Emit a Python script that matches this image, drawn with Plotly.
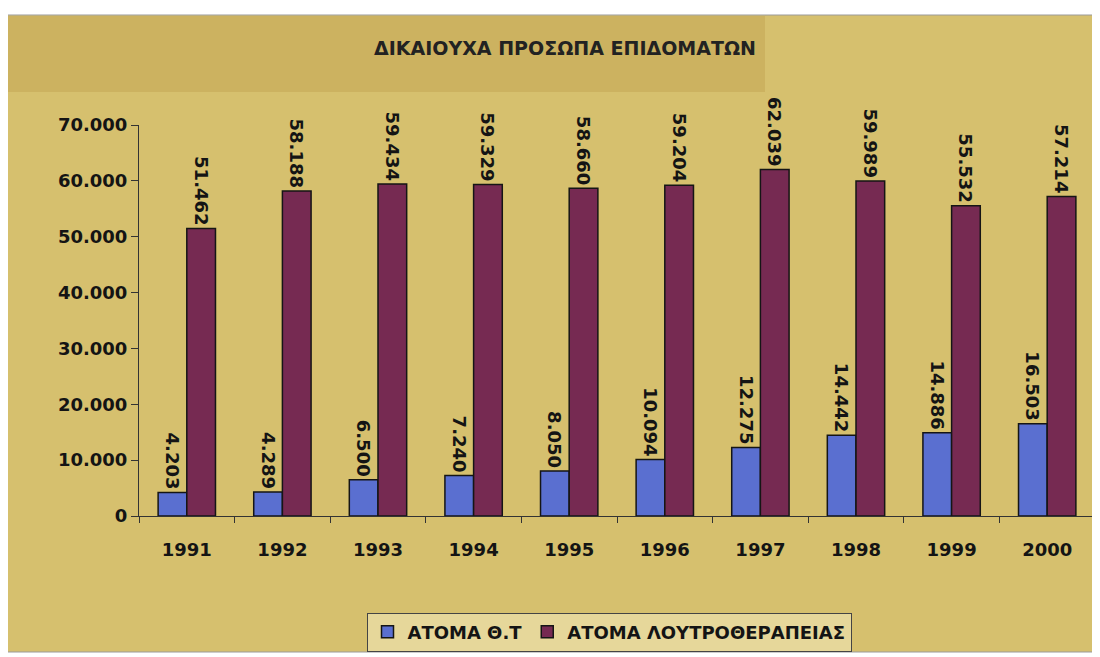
import plotly.graph_objects as go

years = ["1991", "1992", "1993", "1994", "1995", "1996", "1997", "1998", "1999", "2000"]
atoma_th = [4203, 4289, 6500, 7240, 8050, 10094, 12275, 14442, 14886, 16503]
atoma_loutro = [51462, 58188, 59434, 59329, 58660, 59204, 62039, 59989, 55532, 57214]
y_ticks = [0, 10000, 20000, 30000, 40000, 50000, 60000, 70000]

FONT = "DejaVu Sans, Liberation Sans, Arial, sans-serif"
FS = 18

# Page body has an 8px margin, so the figure is sized/positioned accordingly.
W, H = 1092, 649
L, R, T, B = 131, 5, 117, 141
PW, PH = W - L - R, H - T - B


def px(fx):
    return (fx - L) / PW


def py(fy):
    return (H - B - fy) / PH


fig = go.Figure()
fig.add_trace(go.Bar(
    x=years, y=atoma_th, name="ΑΤΟΜΑ Θ.Τ",
    marker=dict(color="#5a6fd0", line=dict(color="#151515", width=1.5)),
    texttemplate="%{y:,.0f}", textposition="outside", textangle=90,
    constraintext="none", cliponaxis=False,
    textfont=dict(family=FONT, size=FS, color="#141414", weight="bold"),
))
fig.add_trace(go.Bar(
    x=years, y=atoma_loutro, name="ΑΤΟΜΑ ΛΟΥΤΡΟΘΕΡΑΠΕΙΑΣ",
    marker=dict(color="#762a52", line=dict(color="#151515", width=1.5)),
    texttemplate="%{y:,.0f}", textposition="outside", textangle=90,
    constraintext="none", cliponaxis=False,
    textfont=dict(family=FONT, size=FS, color="#141414", weight="bold"),
))

fig.update_layout(
    width=W, height=H,
    separators=",.",
    barmode="group", bargap=0.4, bargroupgap=0,
    paper_bgcolor="#ffffff",
    plot_bgcolor="#dccb80",
    margin=dict(l=L, r=R, t=T, b=B, autoexpand=False),
    title=dict(text="ΔΙΚΑΙΟΥΧΑ ΠΡΟΣΩΠΑ ΕΠΙΔΟΜΑΤΩΝ", x=557 / W, xanchor="center",
               y=1 - 40 / H, yanchor="middle",
               font=dict(family=FONT, size=19, color="#222222", weight="bold")),
    font=dict(family=FONT, color="#141414"),
    legend=dict(orientation="h", xref="container", yref="container",
                x=601 / W, xanchor="center", y=1 - 624 / H, yanchor="middle",
                bgcolor="#e6d79a", bordercolor="#444444", borderwidth=1,
                font=dict(family=FONT, size=FS, color="#141414", weight="bold"),
                itemwidth=30, tracegroupgap=0),
    shapes=[
        dict(type="rect", xref="paper", yref="paper", x0=px(-3), x1=px(W),
             y0=py(644), y1=py(7), fillcolor="#d6c06e",
             line=dict(color="#9a9a9a", width=1), layer="below"),
        dict(type="rect", xref="paper", yref="paper", x0=px(-3), x1=px(757),
             y0=py(84), y1=py(8), fillcolor="#ccb260", line=dict(width=0),
             layer="below"),
    ],
)
fig.update_xaxes(
    showline=True, linecolor="#333333", linewidth=1,
    ticks="outside", tickson="boundaries", ticklen=6, tickcolor="#333333",
    ticklabelstandoff=17, automargin=False,
    tickfont=dict(family=FONT, size=FS, color="#141414", weight="bold"),
    showgrid=False,
)
fig.update_yaxes(
    range=[0, 70000], tickvals=y_ticks, tickformat=",.0f",
    showline=True, linecolor="#333333", linewidth=1,
    ticks="outside", ticklen=7, tickcolor="#333333", automargin=False,
    tickfont=dict(family=FONT, size=FS, color="#141414", weight="bold"),
    showgrid=False, zeroline=False,
)

fig.write_html("out.html")
